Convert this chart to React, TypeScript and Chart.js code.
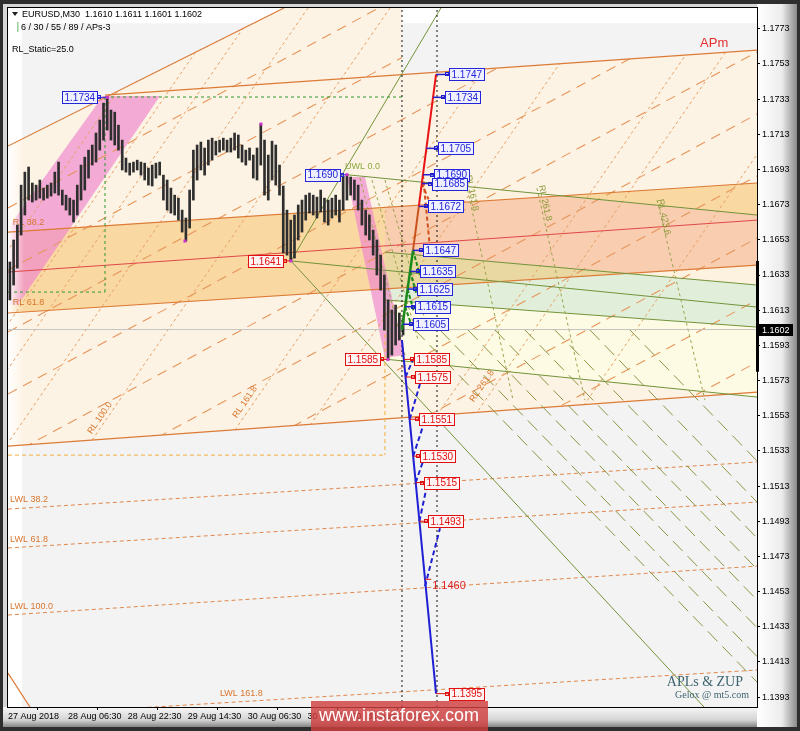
import React, { useEffect, useRef } from "react";
import { Chart, registerables } from "chart.js";

Chart.register(...registerables);

type Pt = [number, number];
type Seg = [number, number, number, number];

const FONT = '"Liberation Sans", Arial, Helvetica, sans-serif';
const SERIF = '"Liberation Serif", "DejaVu Serif", serif';

// ---------- axes ----------
const timeMin = 0;
const timeMax = 400;
const priceMin = 1.13874;
const priceMax = 1.17848;
const priceTicks = [1.1773, 1.1753, 1.1733, 1.1713, 1.1693, 1.1673, 1.1653, 1.1633, 1.1613, 1.1593, 1.1573, 1.1553, 1.1533, 1.1513, 1.1493, 1.1473, 1.1453, 1.1433, 1.1413, 1.1393];
const timeTickBars = [0, 32, 64, 96, 128, 160, 192];
const timeTickLabels = ["27 Aug 2018", "28 Aug 06:30", "28 Aug 22:30", "29 Aug 14:30", "30 Aug 06:30", "30 Aug 22:30", "31 Aug 14:30"];

// ---------- price bars (one every 2 x M30) ----------
const highs = [
  1.16404, 1.16529, 1.16614, 1.16841, 1.16915, 1.16944, 1.16853, 1.16841, 1.16870, 1.16824,
  1.16841, 1.16853, 1.16915, 1.16972, 1.16813, 1.16784, 1.16767, 1.16756, 1.16841, 1.16955,
  1.17000, 1.17040, 1.17069, 1.17137, 1.17211, 1.17307, 1.17340, 1.17268, 1.17256, 1.17182,
  1.17097, 1.16995, 1.16966, 1.16972, 1.16983, 1.16972, 1.16966, 1.16938, 1.16955, 1.16966,
  1.16972, 1.16898, 1.16870, 1.16824, 1.16784, 1.16767, 1.16699, 1.16654, 1.16813, 1.17040,
  1.17069, 1.17086, 1.17052, 1.17097, 1.17108, 1.17091, 1.17097, 1.17108, 1.17097, 1.17108,
  1.17137, 1.17126, 1.17069, 1.17040, 1.17052, 1.17012, 1.17052, 1.17188, 1.17097, 1.17012,
  1.17091, 1.17069, 1.16955, 1.16836, 1.16699, 1.16642, 1.16671, 1.16728, 1.16756, 1.16784,
  1.16796, 1.16784, 1.16773, 1.16813, 1.16767, 1.16756, 1.16767, 1.16784, 1.16756, 1.16892,
  1.16900, 1.16887, 1.16870, 1.16841, 1.16756, 1.16699, 1.16671, 1.16585, 1.16529, 1.16443,
  1.16330, 1.16188, 1.16131, 1.16159, 1.16114, 1.16085,
];
const lows = [
  1.16188, 1.16273, 1.16369, 1.16557, 1.16671, 1.16756, 1.16745, 1.16756, 1.16767, 1.16756,
  1.16767, 1.16779, 1.16796, 1.16784, 1.16728, 1.16699, 1.16671, 1.16631, 1.16671, 1.16756,
  1.16813, 1.16881, 1.16955, 1.16972, 1.17040, 1.17097, 1.17154, 1.17097, 1.17069, 1.17040,
  1.16927, 1.16915, 1.16898, 1.16915, 1.16927, 1.16898, 1.16870, 1.16841, 1.16836, 1.16881,
  1.16898, 1.16756, 1.16699, 1.16682, 1.16671, 1.16642, 1.16574, 1.16523, 1.16597, 1.16756,
  1.16870, 1.16927, 1.16898, 1.16955, 1.16983, 1.17012, 1.17029, 1.17040, 1.17029, 1.17029,
  1.17040, 1.16995, 1.16972, 1.16955, 1.16983, 1.16881, 1.16870, 1.16955, 1.16784, 1.16756,
  1.16870, 1.16841, 1.16784, 1.16455, 1.16443, 1.16410, 1.16426, 1.16529, 1.16574, 1.16642,
  1.16682, 1.16671, 1.16654, 1.16688, 1.16631, 1.16614, 1.16654, 1.16671, 1.16631, 1.16699,
  1.16756, 1.16784, 1.16756, 1.16699, 1.16614, 1.16557, 1.16529, 1.16443, 1.16330, 1.16244,
  1.16017, 1.15850, 1.15875, 1.15932, 1.15960, 1.15989,
];
const barTimes = highs.map((_, i) => 1 + 2 * i);
const lastPrice = 1.1602;
const axisRangeHigh = 1.1641;
const axisRangeLow = 1.1578;
const quoteText = "EURUSD,M30  1.1610 1.1611 1.1601 1.1602";

// ---------- ZUP projections ----------
const zupUpLevels = [1.1747, 1.1734, 1.1705, 1.169, 1.1685, 1.1672, 1.1647, 1.1635, 1.1625, 1.1615, 1.1605];
const zupUpFrom = [228.6, 227.0, 223.4, 221.6, 221.0, 219.4, 216.3, 214.7, 213.4, 212.1, 210.8];
const zupUpBox = [235.0, 232.9, 229.1, 227.0, 226.0, 223.8, 221.1, 219.5, 217.9, 216.8, 215.8];
const zupDownLevels = [1.1585, 1.1575, 1.1551, 1.153, 1.1515, 1.1493, 1.146, 1.1395];
const zupDownFrom = [211.4, 212.3, 214.5, 216.4, 217.7, 219.7, 222.7, 228.6];
const zupDownBox = [216.3, 216.8, 219.0, 219.5, 221.6, 223.8, 226.0, 235.0];
const zupDownBoxed = [true, true, true, true, true, true, false, true];

const zupGreenPath: Pt[] = [[210.4, 1.1602], [216.3, 1.1647]];
const zupGreenDashes: Seg[] = [
  [216.3, 1.1647, 220.0, 1.1633], [214.7, 1.1635, 218.2, 1.1622],
  [213.4, 1.1625, 216.8, 1.1612], [212.1, 1.1615, 215.6, 1.1604],
];
const zupBrownPath: Pt[] = [[216.3, 1.1647], [219.4, 1.1672]];
const zupRedPath: Pt[] = [[219.4, 1.1672], [228.6, 1.1747]];
const zupRedDashes: Seg[] = [[221.6, 1.169, 225.1, 1.1651], [221.0, 1.1685, 224.6, 1.1676]];
const zupBluePath: Pt[] = [[210.4, 1.1596], [228.6, 1.1395]];
const zupBlueDashes: Seg[] = [
  [212.3, 1.1575, 216.3, 1.1585], [214.5, 1.1551, 220.0, 1.1571], [216.4, 1.153, 221.6, 1.1547],
  [217.7, 1.1515, 222.6, 1.153], [219.7, 1.1493, 224.3, 1.1516], [222.7, 1.1456, 230.7, 1.1489],
];

// swing pivots with their tags
const pivotText = ["1.1734", "1.1690", "1.1641", "1.1585"];
const pivotPrices = [1.1734, 1.169, 1.1641, 1.1585];
const pivotBars = [53, 181, 151.1, 202.9];
const pivotBoxRight = [47.5, 177.3, 146.9, 198.7];
const pivotIsHigh = [true, true, false, false];
const swingMarks: Pt[] = [[53, 1.1734], [94.5, 1.16523], [135.1, 1.17188], [151.1, 1.1641], [181, 1.169], [202.9, 1.1585]];
const cursorBars = [210.4, 229.1];

// ---------- shaded zones (bar, price) ----------
const greyZone: Pt[] = [[7.5, 1.17762], [400, 1.17762], [400, priceMin], [7.5, priceMin]];
const peachZone: Pt[] = [[0, 1.17063], [147.4, 1.17848], [210.4, 1.17848], [210.4, 1.1747], [400, 1.17609], [400, 1.15664], [0, 1.15357]];
const orangeBand: Pt[] = [[0, 1.16574], [400, 1.16853], [400, 1.16386], [0, 1.16114]];
const fanUpper: Pt[] = [[201.3, 1.16879], [400, 1.16671], [400, 1.16273], [201.3, 1.1646]];
const fanMiddle: Pt[] = [[201.3, 1.1646], [400, 1.16273], [400, 1.16034], [201.3, 1.16188]];
const fanLower: Pt[] = [[201.3, 1.16188], [400, 1.16034], [400, 1.15636], [201.3, 1.1585]];
const pinkRise: Pt[] = [[0, 1.16597], [50.7, 1.17347], [81.2, 1.17347], [5.3, 1.16159], [0, 1.16159]];
const pinkFall: Pt[] = [[181, 1.16887], [190.6, 1.16887], [212, 1.15875], [201.3, 1.15858]];

// ---------- trend lines [bar1, price1, bar2, price2] ----------
const orangeSolid: Seg[] = [
  [0, 1.17063, 147.4, 1.17848],
  [51.8, 1.17353, 400, 1.17609],
  [0, 1.16574, 400, 1.16853],
  [0, 1.16114, 400, 1.16386],
  [0, 1.15357, 400, 1.15664],
  [0, 1.14067, 11.7, 1.13874],
];
const redMedian: Seg[] = [[0, 1.16347, 400, 1.16642]];
const longDashOrange: Seg[] = [
  [0, 1.16711, 400, 1.19008], [0, 1.16358, 400, 1.18655], [0, 1.16006, 400, 1.18303],
  [0, 1.15653, 400, 1.1795], [0, 1.15301, 400, 1.17598], [0, 1.14948, 400, 1.17245],
  [0, 1.14596, 400, 1.16893], [0, 1.14243, 400, 1.1654], [0, 1.13891, 400, 1.16188],
  [0, 1.13538, 400, 1.15835],
];
const rlOrange: Seg[] = [
  [-70.0, 1.15392, 89.2, 1.17848], [-42.7, 1.15392, 116.4, 1.17848], [-26.2, 1.15392, 133.0, 1.17848],
  [1.1, 1.15392, 160.2, 1.17848], [44.9, 1.15392, 204.0, 1.17848], [117.5, 1.15392, 276.6, 1.17848],
  [155.9, 1.15392, 315.1, 1.17848], [220.0, 1.15392, 379.2, 1.17848], [240.3, 1.15392, 399.5, 1.17848],
  [294.8, 1.15392, 454.0, 1.17848],
];
const lwlLines: Seg[] = [
  [0, 1.14999, 400, 1.15267], [0, 1.14778, 400, 1.15039],
  [0, 1.14397, 400, 1.14675], [0, 1.13823, 400, 1.14084],
];
const greenSolid: Seg[] = [
  [151.1, 1.1641, 231.2, 1.17848],
  [151.1, 1.1641, 371.7, 1.13874],
  [181, 1.169, 400, 1.16671],
  [201.3, 1.1646, 400, 1.16273],
  [151.1, 1.1641, 400, 1.16148],
  [201.3, 1.16188, 400, 1.16034],
  [202.9, 1.1585, 400, 1.15636],
];
const rlOlive: Seg[] = [
  [244.1, 1.16881, 269.7, 1.15619], [282.5, 1.16824, 308.1, 1.15619], [346.6, 1.16756, 372.2, 1.15619],
  [188.0, 1.16881, 212.0, 1.15875], [194.4, 1.1687, 219.0, 1.1596], [201.3, 1.1687, 224.3, 1.16017],
];
const oliveLongDash: Seg[] = [
  [217.4, 1.16017, 400, 1.14016], [230.7, 1.16017, 400, 1.14161], [245.7, 1.16017, 400, 1.14325],
  [260.1, 1.16017, 400, 1.14483], [276.1, 1.16017, 400, 1.14658], [292.1, 1.16017, 400, 1.14835],
  [310.8, 1.16017, 400, 1.15039], [332.2, 1.16017, 400, 1.15273],
];
const greenDashedBox: Seg[] = [[51.8, 1.17342, 210.4, 1.17342], [51.8, 1.17342, 51.8, 1.16233], [0, 1.16233, 51.8, 1.16233]];
const orangeDashedBox: Seg[] = [[201.3, 1.16233, 201.3, 1.15306], [0, 1.15306, 201.3, 1.15306]];

// ---------- object captions ----------
const lwlText = ["LWL 38.2", "LWL 61.8", "LWL 100.0", "LWL 161.8"];
const lwlTextAt: Pt[] = [[1.1, 1.15051], [1.1, 1.14824], [1.1, 1.14448], [113.2, 1.13948]];
const rlOrangeText = ["RL 100.0", "RL 161.8", "RL 261.8"];
const rlOrangeTextAt: Pt[] = [[49.1, 1.15517], [126.6, 1.15608], [253.1, 1.15699]];
const rlOliveText = ["RL 161.8", "RL 261.8", "RL 423.6"];
const rlOliveTextAt: Pt[] = [[247.8, 1.16796], [286.8, 1.16739], [350.3, 1.16659]];
const leftRlText = ["RL 38.2", "RL 61.8"];
const leftRlTextAt: Pt[] = [[2.5, 1.16631], [2.5, 1.16176]];

function X(c: any, v: number) { return c.scales.x.getPixelForValue(v); }
function Y(c: any, v: number) { return c.scales.y.getPixelForValue(v); }

function polyPath(c: any, ctx: CanvasRenderingContext2D, pts: Pt[]) {
  ctx.beginPath();
  pts.forEach((p, i) => {
    const x = X(c, p[0]);
    const y = Y(c, p[1]);
    if (i === 0) ctx.moveTo(x, y); else ctx.lineTo(x, y);
  });
  ctx.closePath();
}
function fillPoly(c: any, ctx: CanvasRenderingContext2D, pts: Pt[], color: string) {
  polyPath(c, ctx, pts);
  ctx.fillStyle = color;
  ctx.fill();
}
function strokeSegs(c: any, ctx: CanvasRenderingContext2D, segs: Seg[], color: string, width: number, dash: number[]) {
  ctx.save();
  ctx.strokeStyle = color;
  ctx.lineWidth = width;
  ctx.setLineDash(dash);
  segs.forEach((s) => {
    ctx.beginPath();
    ctx.moveTo(X(c, s[0]), Y(c, s[1]));
    ctx.lineTo(X(c, s[2]), Y(c, s[3]));
    ctx.stroke();
  });
  ctx.restore();
}
function textAt(c: any, ctx: CanvasRenderingContext2D, t: string, p: Pt, color: string, size: number, angle = 0, align: CanvasTextAlign = "left") {
  ctx.save();
  ctx.translate(X(c, p[0]), Y(c, p[1]));
  ctx.rotate(angle);
  ctx.font = `${size}px ${FONT}`;
  ctx.fillStyle = color;
  ctx.textAlign = align;
  ctx.textBaseline = "middle";
  ctx.fillText(t, 0, 0);
  ctx.restore();
}
function tag(ctx: CanvasRenderingContext2D, x: number, y: number, text: string, color: string, fill: string, side: "left" | "right") {
  ctx.font = `10px ${FONT}`;
  const w = Math.ceil(ctx.measureText(text).width) + 4;
  const h = 12;
  const bx = Math.round(side === "left" ? x : x - w);
  const by = Math.round(y - h / 2);
  ctx.fillStyle = fill;
  ctx.fillRect(bx, by, w, h);
  ctx.strokeStyle = color;
  ctx.lineWidth = 1;
  ctx.setLineDash([]);
  ctx.strokeRect(bx + 0.5, by + 0.5, w, h);
  ctx.fillStyle = color;
  ctx.textAlign = "left";
  ctx.textBaseline = "middle";
  ctx.fillText(text, bx + 2.5, y + 1);
}

const framePlugin = {
  id: "frame",
  beforeDraw(c: any) {
    const ctx = c.ctx;
    const W = c.width;
    const H = c.height;
    const a = c.chartArea;
    ctx.save();
    ctx.fillStyle = "#2e2e2e";
    ctx.fillRect(0, 0, W, H);
    ctx.fillStyle = "#d6d6d6";
    ctx.fillRect(3, 4, W - 6, H - 8);
    const gr = ctx.createLinearGradient(a.right, 0, W - 3, 0);
    gr.addColorStop(0, "#ffffff");
    gr.addColorStop(0.62, "#ececec");
    gr.addColorStop(1, "#8a8a8a");
    ctx.fillStyle = gr;
    ctx.fillRect(a.right, 4, W - 3 - a.right, H - 8);
    const gb = ctx.createLinearGradient(0, a.bottom, 0, H - 4);
    gb.addColorStop(0, "#f7f7f7");
    gb.addColorStop(0.65, "#d4d4d4");
    gb.addColorStop(1, "#858585");
    ctx.fillStyle = gb;
    ctx.fillRect(3, a.bottom, a.right - 3, H - 4 - a.bottom);
    ctx.restore();
  },
};

const scenePlugin = {
  id: "scene",
  beforeDatasetsDraw(c: any) {
    const ctx: CanvasRenderingContext2D = c.ctx;
    const a = c.chartArea;
    ctx.save();
    ctx.beginPath();
    ctx.rect(a.left, a.top, a.right - a.left, a.bottom - a.top);
    ctx.clip();
    ctx.fillStyle = "#ffffff";
    ctx.fillRect(a.left, a.top, a.right - a.left, a.bottom - a.top);
    fillPoly(c, ctx, greyZone, "#f3f3f3");
    fillPoly(c, ctx, peachZone, "#fdf3e4");
    fillPoly(c, ctx, fanUpper, "#fdf2df");
    fillPoly(c, ctx, fanMiddle, "#e1efda");
    fillPoly(c, ctx, fanLower, "#fdfbe3");
    fillPoly(c, ctx, orangeBand, "#fad8a2");
    ctx.save();
    polyPath(c, ctx, orangeBand);
    ctx.clip();
    fillPoly(c, ctx, fanUpper, "#f8cdb0");
    fillPoly(c, ctx, fanMiddle, "#e9d8a2");
    ctx.restore();
    fillPoly(c, ctx, pinkRise, "rgba(238,135,205,0.68)");
    fillPoly(c, ctx, pinkFall, "rgba(238,135,205,0.68)");
    const g = ctx.createLinearGradient(a.left, 0, a.left + 16, 0);
    g.addColorStop(0, "rgba(255,255,255,1)");
    g.addColorStop(1, "rgba(255,255,255,0)");
    ctx.fillStyle = g;
    ctx.fillRect(a.left, a.top, 16, a.bottom - a.top);

    ctx.save();
    polyPath(c, ctx, peachZone);
    ctx.clip();
    strokeSegs(c, ctx, longDashOrange, "#e6955a", 1.1, [10, 7]);
    strokeSegs(c, ctx, rlOrange, "#e5a066", 1, [3, 3]);
    ctx.restore();

    strokeSegs(c, ctx, lwlLines, "#e0874a", 1, [4, 3]);
    strokeSegs(c, ctx, orangeSolid, "#dc7a36", 1.2, []);
    strokeSegs(c, ctx, redMedian, "#e04848", 1, []);
    strokeSegs(c, ctx, oliveLongDash, "#8e9444", 1, [14, 7]);
    strokeSegs(c, ctx, greenSolid, "#72933a", 1, []);
    strokeSegs(c, ctx, rlOlive, "#9ba44c", 1, [3, 3]);
    strokeSegs(c, ctx, greenDashedBox, "#2e9a2e", 1, [3, 3]);
    strokeSegs(c, ctx, orangeDashedBox, "#f2b03c", 1, [4, 3]);
    strokeSegs(c, ctx, [[timeMin, lastPrice, timeMax, lastPrice]], "#c4c4c4", 1, []);

    lwlText.forEach((t, i) => textAt(c, ctx, t, lwlTextAt[i], "#d8762e", 9));
    leftRlText.forEach((t, i) => textAt(c, ctx, t, leftRlTextAt[i], "#d8762e", 9));
    rlOrangeText.forEach((t, i) => textAt(c, ctx, t, rlOrangeTextAt[i], "#d8762e", 9, -0.97, "center"));
    rlOliveText.forEach((t, i) => textAt(c, ctx, t, rlOliveTextAt[i], "#8c9a3c", 9, 1.36, "center"));
    textAt(c, ctx, "UWL 0.0", [180, 1.16944], "#8caa3c", 9);
    textAt(c, ctx, "APm", [369.6, 1.17649], "#e03030", 13);
    ctx.restore();
  },
  afterDatasetsDraw(c: any) {
    const ctx: CanvasRenderingContext2D = c.ctx;
    ctx.save();
    zupUpLevels.forEach((lv, i) => {
      const y = Y(c, lv);
      const bx = X(c, zupUpBox[i]);
      ctx.strokeStyle = "#2020d0";
      ctx.lineWidth = 1.5;
      ctx.beginPath();
      ctx.moveTo(X(c, zupUpFrom[i]), y);
      ctx.lineTo(bx, y);
      ctx.stroke();
      ctx.lineWidth = 1;
      ctx.strokeRect(Math.round(bx - 3) + 0.5, Math.round(y - 2) + 0.5, 3, 3);
      tag(ctx, bx + 1, y, lv.toFixed(4), "#2424d8", "#eef0ff", "left");
    });
    zupDownLevels.forEach((lv, i) => {
      const y = Y(c, lv);
      const bx = X(c, zupDownBox[i]);
      ctx.strokeStyle = "#e01010";
      ctx.lineWidth = 1;
      ctx.beginPath();
      ctx.moveTo(X(c, zupDownFrom[i]), y);
      ctx.lineTo(bx, y);
      ctx.stroke();
      if (zupDownBoxed[i]) {
        ctx.strokeRect(Math.round(bx - 3) + 0.5, Math.round(y - 2) + 0.5, 3, 3);
        tag(ctx, bx + 1, y, lv.toFixed(4), "#e01010", "#fff4f4", "left");
      } else {
        ctx.font = `11px ${FONT}`;
        ctx.fillStyle = "#e02020";
        ctx.textAlign = "left";
        ctx.textBaseline = "top";
        ctx.fillText(lv.toFixed(4), bx + 1, y + 1);
      }
    });
    pivotPrices.forEach((p, i) => {
      const y = Y(c, p);
      const right = X(c, pivotBoxRight[i]);
      const col = pivotIsHigh[i] ? "#2424d8" : "#e01010";
      ctx.strokeStyle = col;
      ctx.lineWidth = 1;
      ctx.beginPath();
      ctx.moveTo(right, y);
      ctx.lineTo(X(c, pivotBars[i]), y);
      ctx.stroke();
      ctx.strokeRect(Math.round(right) + 0.5, Math.round(y - 2) + 0.5, 3, 3);
      tag(ctx, right, y, pivotText[i], col, pivotIsHigh[i] ? "#eef0ff" : "#fff4f4", "right");
    });
    ctx.fillStyle = "#cc33cc";
    swingMarks.forEach((m) => ctx.fillRect(X(c, m[0]) - 1.5, Y(c, m[1]) - 1.5, 3, 3));
    ctx.restore();
  },
  afterDraw(c: any) {
    const ctx: CanvasRenderingContext2D = c.ctx;
    const a = c.chartArea;
    ctx.save();
    ctx.strokeStyle = "#000";
    ctx.lineWidth = 1;
    ctx.strokeRect(a.left - 0.5, a.top - 0.5, a.right - a.left + 1, a.bottom - a.top + 1);
    ctx.fillStyle = "#000";
    ctx.fillRect(a.right - 1, Y(c, axisRangeHigh), 3, Y(c, axisRangeLow) - Y(c, axisRangeHigh));
    const yp = Y(c, lastPrice);
    ctx.fillStyle = "#000";
    ctx.fillRect(a.right, Math.round(yp - 6), 36, 12);
    ctx.font = `9px ${FONT}`;
    ctx.fillStyle = "#fff";
    ctx.textBaseline = "middle";
    ctx.textAlign = "left";
    ctx.fillText(lastPrice.toFixed(4), a.right + 5, yp + 0.5);
    ctx.fillStyle = "#202020";
    ctx.beginPath();
    ctx.moveTo(a.left + 4, a.top + 4);
    ctx.lineTo(a.left + 10, a.top + 4);
    ctx.lineTo(a.left + 7, a.top + 8);
    ctx.closePath();
    ctx.fill();
    ctx.font = `9px ${FONT}`;
    ctx.fillStyle = "#000";
    ctx.fillText(quoteText, a.left + 14, a.top + 6.5);
    ctx.fillStyle = "#9ccf9c";
    ctx.fillRect(a.left + 9, a.top + 14, 1.5, 10);
    ctx.fillStyle = "#000";
    ctx.fillText("6 / 30 / 55 / 89 / APs-3", a.left + 13, a.top + 19.5);
    ctx.fillText("RL_Static=25.0", a.left + 4, a.top + 42);
    ctx.textAlign = "right";
    ctx.fillStyle = "#3d6470";
    ctx.font = `14px ${SERIF}`;
    ctx.fillText("APLs & ZUP", a.right - 14, a.bottom - 25);
    ctx.font = `10px ${SERIF}`;
    ctx.fillText("Gelox @ mt5.com", a.right - 8, a.bottom - 12);
    ctx.fillStyle = "rgba(208,62,62,0.82)";
    ctx.fillRect(311, a.bottom - 6, 177, c.height - a.bottom + 6);
    ctx.fillStyle = "#ffffff";
    ctx.font = `18px ${FONT}`;
    ctx.textAlign = "center";
    ctx.fillText("www.instaforex.com", 399, a.bottom + 9);
    ctx.restore();
  },
};

function lineSet(pts: Pt[], color: string, width: number, dash: number[] = []) {
  return {
    type: "line" as const,
    data: pts.map((p) => ({ x: p[0], y: p[1] })),
    borderColor: color,
    borderWidth: width,
    borderDash: dash,
    pointRadius: 0,
    fill: false,
    tension: 0,
    order: 0,
  };
}
function segSets(segs: Seg[], color: string, width: number, dash: number[]) {
  return segs.map((s) => lineSet([[s[0], s[1]], [s[2], s[3]]], color, width, dash));
}

export default function App() {
  const ref = useRef<HTMLCanvasElement | null>(null);
  useEffect(() => {
    if (!ref.current) return;
    const datasets: any[] = [
      {
        type: "bar",
        data: barTimes.map((t, i) => ({ x: t, y: [lows[i], highs[i]] })),
        backgroundColor: "#2e2e2e",
        borderWidth: 0,
        barThickness: 2,
        order: 10,
      },
      ...cursorBars.map((b) => ({ ...lineSet([[b, priceMin], [b, priceMax]], "#111111", 1, [2, 3]), order: 5 })),
      lineSet(zupGreenPath, "#1b8a1b", 2.5),
      ...segSets(zupGreenDashes, "#1b8a1b", 2, [4, 2]),
      lineSet(zupBrownPath, "#c8531e", 2),
      lineSet(zupRedPath, "#e81414", 2),
      ...segSets(zupRedDashes, "#d0501e", 2, [4, 3]),
      lineSet(zupBluePath, "#1f1fd4", 2),
      ...segSets(zupBlueDashes, "#1f1fd4", 2, [5, 3]),
    ];
    const chart = new Chart(ref.current, {
      type: "bar",
      data: { datasets },
      options: {
        responsive: false,
        maintainAspectRatio: false,
        animation: false,
        devicePixelRatio: 1,
        events: [],
        layout: { padding: { left: 8, top: 8, right: 0, bottom: 0 } },
        plugins: { legend: { display: false }, tooltip: { enabled: false } },
        scales: {
          x: {
            type: "linear",
            min: timeMin,
            max: timeMax,
            offset: false,
            grid: { drawOnChartArea: false, drawTicks: true, tickLength: 3, color: "#000" },
            border: { display: false },
            ticks: {
              autoSkip: false,
              maxRotation: 0,
              minRotation: 0,
              align: "start",
              padding: 1,
              color: "#000",
              font: { family: FONT, size: 9 },
              callback: (_v: any, i: number) => timeTickLabels[i] ?? "",
            },
            afterBuildTicks: (s: any) => { s.ticks = timeTickBars.map((v) => ({ value: v })); },
            afterFit: (s: any) => { s.height = 24; },
          },
          y: {
            type: "linear",
            position: "right",
            min: priceMin,
            max: priceMax,
            grid: { drawOnChartArea: false, drawTicks: true, tickLength: 3, color: "#000" },
            border: { display: false },
            ticks: {
              autoSkip: false,
              padding: 2,
              color: "#000",
              font: { family: FONT, size: 9 },
              callback: (v: any) => Number(v).toFixed(4),
            },
            afterBuildTicks: (s: any) => { s.ticks = priceTicks.map((v) => ({ value: v })); },
            afterFit: (s: any) => { s.width = 43; },
          },
        },
      } as any,
      plugins: [framePlugin, scenePlugin],
    });
    return () => chart.destroy();
  }, []);
  return (
    <div style={{ position: "absolute", left: 0, top: 0, width: 800, height: 731 }}>
      <canvas ref={ref} width={800} height={731} style={{ display: "block", width: 800, height: 731 }} />
    </div>
  );
}
